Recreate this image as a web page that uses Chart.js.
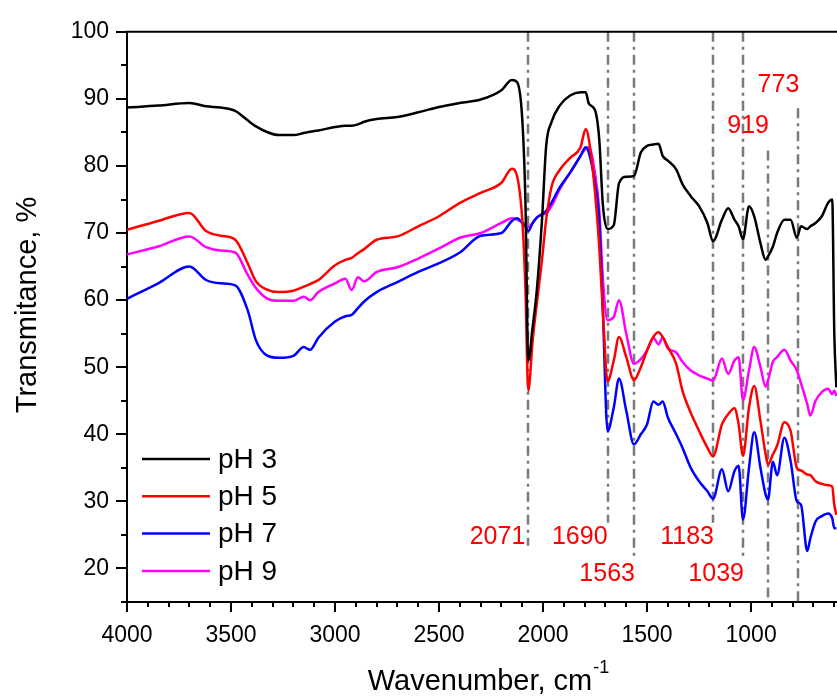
<!DOCTYPE html>
<html>
<head>
<meta charset="utf-8">
<script src="https://cdn.jsdelivr.net/npm/chart.js@4.4.0/dist/chart.umd.min.js"></script>
<style>
  html, body { margin: 0; padding: 0; background: #fff; overflow: hidden; }
</style>
</head>
<body>
<canvas id="ftirChart" width="837" height="696"></canvas>
<script>
// FTIR spectra, values
const wavenumbers = [4000, 3850, 3700, 3620, 3550, 3480, 3420, 3380, 3330, 3270, 3200, 3150, 3120, 3080, 3000, 2950, 2920, 2890, 2860, 2800,
  2700, 2600, 2500, 2400, 2300, 2200, 2150, 2125, 2100, 2085, 2071, 2050, 2030, 2005, 1985, 1960, 1920, 1870, 1820, 1795,
  1780, 1750, 1730, 1712, 1690, 1660, 1635, 1600, 1563, 1530, 1500, 1470, 1445, 1425, 1400, 1360, 1330, 1290, 1250, 1210,
  1183, 1140, 1110, 1080, 1060, 1039, 1010, 985, 955, 930, 919, 895, 875, 840, 810, 780, 760, 730, 715, 690,
  660, 630, 610, 600, 590];

const ph3 = [88.7, 89.0, 89.4, 88.9, 88.7, 88.2, 86.8, 85.9, 85.1, 84.6, 84.6, 84.9, 85.1, 85.3, 85.8, 86.0, 86.0, 86.2, 86.6, 87.0,
  87.3, 88.0, 88.8, 89.4, 89.9, 91.3, 92.8, 92.5, 87.0, 75.0, 51.0, 56.0, 61.5, 72.0, 83.0, 86.5, 89.0, 90.5, 91.0, 91.0,
  89.3, 88.3, 84.0, 74.0, 70.6, 71.2, 77.4, 78.4, 78.5, 82.0, 83.0, 83.2, 83.3, 81.5, 80.8, 79.5, 77.3, 75.5, 74.0, 71.5,
  68.8, 72.0, 73.7, 72.0, 71.0, 69.1, 74.0, 72.5, 68.5, 66.0, 66.5, 68.0, 70.0, 72.0, 72.0, 69.3, 71.0, 70.6, 71.0, 71.5,
  72.5, 74.5, 75.0, 55.0, 47.0];

const ph5 = [70.5, 71.8, 73.0, 70.3, 69.6, 69.0, 65.5, 62.8, 61.6, 61.2, 61.4, 62.0, 62.4, 63.0, 65.2, 66.0, 66.3, 67.0, 67.6, 69.0,
  69.5, 71.0, 72.5, 74.5, 76.0, 77.5, 79.6, 78.5, 72.0, 62.0, 46.5, 54.0, 59.5, 66.0, 72.0, 76.8, 79.4, 81.2, 82.8, 85.5,
  84.0, 76.0, 68.0, 58.0, 47.9, 51.0, 54.5, 51.5, 48.1, 50.0, 52.5, 54.5, 55.2, 54.5, 53.0, 50.5, 46.5, 43.2, 40.5, 38.0,
  36.7, 41.5, 43.0, 43.9, 41.5, 36.8, 44.0, 47.2, 42.0, 37.0, 35.5, 37.0, 38.3, 41.8, 40.5, 35.0, 34.6, 34.0, 33.9, 33.0,
  32.6, 32.4, 32.2, 29.5, 28.0];

const ph7 = [60.2, 62.5, 65.0, 63.0, 62.5, 62.2, 58.5, 54.0, 51.8, 51.4, 51.7, 53.0, 52.6, 54.4, 56.8, 57.6, 57.8, 58.8, 59.8, 61.2,
  62.7, 64.2, 65.5, 67.1, 69.6, 70.0, 71.8, 72.2, 71.5, 71.0, 70.3, 71.5, 72.3, 72.8, 73.3, 74.5, 76.8, 79.0, 81.5, 82.8,
  82.0, 77.4, 72.0, 58.0, 40.5, 44.0, 48.3, 43.5, 38.5, 40.0, 41.5, 44.9, 44.4, 44.9, 42.5, 40.0, 38.0, 35.0, 33.0, 31.5,
  30.4, 34.8, 31.5, 34.5, 35.3, 27.3, 35.0, 40.3, 35.0, 31.0, 30.3, 35.9, 33.9, 39.5, 36.0, 30.0, 29.5, 22.6, 24.5, 27.0,
  27.8, 28.2, 27.5, 26.0, 26.0];

const ph9 = [66.8, 68.0, 69.5, 67.9, 67.4, 67.1, 63.8, 61.8, 60.3, 59.9, 59.9, 60.5, 60.0, 61.2, 62.5, 63.2, 61.5, 63.4, 62.8, 64.2,
  64.9, 66.2, 67.7, 69.3, 70.0, 71.5, 72.2, 72.0, 71.6, 71.2, 70.9, 71.5, 72.3, 72.8, 72.9, 74.0, 76.5, 79.0, 81.5, 82.6,
  82.8, 78.8, 73.5, 63.0, 57.0, 57.5, 60.0, 55.0, 50.5, 51.2, 52.5, 54.4, 53.4, 54.4, 52.8, 52.2, 50.8, 49.5, 48.8, 48.3,
  48.0, 51.3, 49.0, 51.0, 51.5, 45.1, 49.5, 53.0, 50.0, 47.1, 48.0, 50.8, 51.5, 52.6, 51.0, 49.5, 47.6, 44.5, 42.8, 45.0,
  46.3, 46.8, 46.0, 46.5, 45.7];

const seriesLabels = ['pH 3', 'pH 5', 'pH 7', 'pH 9'];
const xTickValues = [4000, 3500, 3000, 2500, 2000, 1500, 1000];
const yTickValues = [20, 30, 40, 50, 60, 70, 80, 90, 100];
const peakValues = [2071, 1690, 1563, 1183, 1039, 919, 773];

const colors = ['#000000', '#ff0000', '#0000ff', '#ff00ff'];
const FONT = '"Liberation Sans", Arial, sans-serif';

function toPoints(ys) {
  return wavenumbers.map((w, i) => ({ x: w, y: ys[i] }));
}

// where each peak marker line starts/ends (y values) and where its label sits (px)
const peakStyle = {
  2071: { from: 100, to: 23.4, ly: 537, dx: -3 },
  1690: { from: 100, to: 26.8, ly: 537, dx: 0 },
  1563: { from: 100, to: 21.2, ly: 574, dx: 1 },
  1183: { from: 100, to: 26.8, ly: 537, dx: 1 },
  1039: { from: 100, to: 21.2, ly: 574, dx: 1 },
  919:  { from: 82.3, to: 15, ly: 126, dx: 1 },
  773:  { from: 88.6, to: 15, ly: 85, dx: 1 }
};

const decorations = {
  id: 'decorations',
  beforeDatasetsDraw(chart) {
    const { ctx, scales: { x, y } } = chart;
    ctx.save();
    ctx.strokeStyle = '#7a7a7a';
    ctx.lineWidth = 2.5;
    ctx.setLineDash([10, 5, 3, 5]);
    peakValues.forEach(p => {
      const s = peakStyle[p];
      const px = Math.round(x.getPixelForValue(p));
      ctx.beginPath();
      ctx.moveTo(px, y.getPixelForValue(s.from));
      ctx.lineTo(px, y.getPixelForValue(s.to));
      ctx.stroke();
    });
    ctx.restore();
  },
  afterDraw(chart) {
    const { ctx, chartArea: a, scales: { x, y } } = chart;
    ctx.save();
    // top frame line
    ctx.strokeStyle = '#000';
    ctx.lineWidth = 2;
    ctx.beginPath();
    ctx.moveTo(a.left - 1, a.top);
    ctx.lineTo(a.right, a.top);
    ctx.stroke();

    // y ticks (outside)
    for (let v = 15; v <= 100; v += 5) {
      const py = Math.round(y.getPixelForValue(v));
      const len = v % 10 === 0 ? 11 : 6;
      ctx.beginPath();
      ctx.moveTo(a.left, py);
      ctx.lineTo(a.left - len, py);
      ctx.stroke();
    }
    // x ticks (outside)
    for (let v = 4000; v >= 600; v -= 100) {
      const px = Math.round(x.getPixelForValue(v));
      const len = v % 500 === 0 ? 10 : 5;
      ctx.beginPath();
      ctx.moveTo(px, a.bottom);
      ctx.lineTo(px, a.bottom + len);
      ctx.stroke();
    }

    // peak labels
    ctx.fillStyle = '#ff0000';
    ctx.font = '25px ' + FONT;
    ctx.textAlign = 'right';
    ctx.textBaseline = 'middle';
    peakValues.forEach(p => {
      const px = x.getPixelForValue(p) + peakStyle[p].dx;
      ctx.fillText(String(p), px, peakStyle[p].ly);
    });

    // legend
    ctx.textAlign = 'left';
    ctx.font = '28px ' + FONT;
    chart.data.datasets.forEach((ds, i) => {
      const ly = 459 + i * 37.3;
      ctx.strokeStyle = ds.borderColor;
      ctx.lineWidth = 2.5;
      ctx.beginPath();
      ctx.moveTo(142, ly);
      ctx.lineTo(210, ly);
      ctx.stroke();
      ctx.fillStyle = '#000';
      ctx.fillText(ds.label, 218, ly + 1);
    });

    // axis titles
    ctx.fillStyle = '#000';
    ctx.font = '29px ' + FONT;
    ctx.save();
    ctx.translate(36, 305);
    ctx.rotate(-Math.PI / 2);
    ctx.textAlign = 'center';
    ctx.textBaseline = 'alphabetic';
    ctx.fillText('Transmitance, %', 0, 0);
    ctx.restore();

    const main = 'Wavenumber, cm';
    ctx.font = '29px ' + FONT;
    const wMain = ctx.measureText(main).width;
    ctx.font = '18px ' + FONT;
    const wSup = ctx.measureText('-1').width;
    const x0 = 488 - (wMain + wSup) / 2;
    ctx.textAlign = 'left';
    ctx.textBaseline = 'alphabetic';
    ctx.font = '29px ' + FONT;
    ctx.fillText(main, x0, 690);
    ctx.font = '18px ' + FONT;
    ctx.fillText('-1', x0 + wMain + 1, 673);
    ctx.restore();
  }
};

const ctx = document.getElementById('ftirChart').getContext('2d');
const ftirChart = new Chart(ctx, {
  type: 'line',
  data: {
    datasets: [ph3, ph5, ph7, ph9].map((ys, i) => ({
      label: seriesLabels[i],
      data: toPoints(ys),
      borderColor: colors[i],
      backgroundColor: colors[i],
      borderWidth: 2.5,
      pointRadius: 0,
      cubicInterpolationMode: 'monotone',
      fill: false
    }))
  },
  options: {
    responsive: false,
    animation: false,
    layout: { padding: { top: 22, right: 0, left: 0, bottom: 0 } },
    plugins: { legend: { display: false }, tooltip: { enabled: false } },
    scales: {
      x: {
        type: 'linear',
        reverse: true,
        min: 587,
        max: 4000,
        grid: { display: false, drawTicks: false },
        border: { display: true, color: '#000', width: 2 },
        afterBuildTicks: s => { s.ticks = xTickValues.map(v => ({ value: v })); },
        afterFit: s => { s.height = 94; },
        ticks: {
          autoSkip: false,
          maxRotation: 0,
          padding: 20,
          color: '#000',
          font: { family: FONT, size: 23 },
          callback: v => String(v)
        }
      },
      y: {
        min: 15,
        max: 100,
        grid: { display: false, drawTicks: false },
        border: { display: true, color: '#000', width: 2 },
        afterBuildTicks: s => { s.ticks = yTickValues.map(v => ({ value: v })); },
        afterFit: s => { s.width = 127; },
        ticks: {
          padding: 18,
          color: '#000',
          font: { family: FONT, size: 23 },
          callback: v => String(v)
        }
      }
    }
  },
  plugins: [decorations]
});
</script>
</body>
</html>
